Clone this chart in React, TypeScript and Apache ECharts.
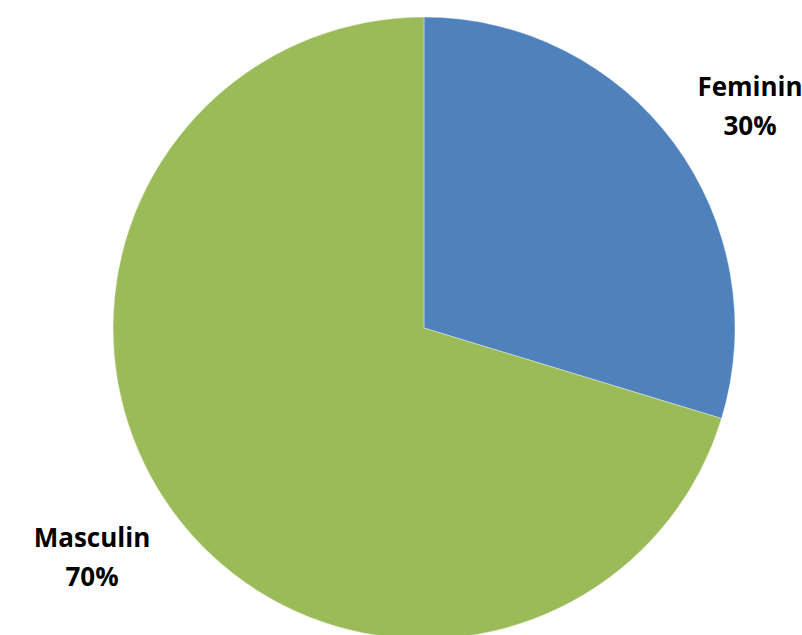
import React, { useEffect, useRef } from "react";
import * as echarts from "echarts";

const categories = ["Feminin", "Masculin"];
const values = [29.7, 70.3];
const percentLabels = ["30%", "70%"];
const colors = ["#4F81BD", "#9BBB59"];
const labelCenters = [
  [750, 105],
  [92, 556],
];

export default function App() {
  const ref = useRef<HTMLDivElement>(null);
  useEffect(() => {
    const chart = echarts.init(ref.current!, null, { renderer: "svg" });
    chart.setOption({
      animation: false,
      backgroundColor: "#ffffff",
      series: [
        {
          type: "pie",
          center: [424, 328],
          radius: 311,
          startAngle: 90,
          clockwise: true,
          data: categories.map((c, i) => ({
            name: c,
            value: values[i],
            itemStyle: { color: colors[i] },
          })),
          itemStyle: { borderColor: "rgba(255,255,255,0.6)", borderWidth: 0.6 },
          label: {
            show: true,
            position: "outside",
            formatter: (p: any) => `${p.name}\n${percentLabels[p.dataIndex]}`,
            fontFamily: "Open Sans",
            fontWeight: "bold",
            fontSize: 26,
            lineHeight: 39,
            color: "#000000",
            align: "center",
            overflow: "none",
            width: 200,
          },
          labelLine: { show: false },
          labelLayout: (params: any) => ({
            x: labelCenters[params.dataIndex][0],
            y: labelCenters[params.dataIndex][1],
            align: "center",
            verticalAlign: "middle",
          }),
          emphasis: { disabled: true },
        },
      ],
    });
    return () => chart.dispose();
  }, []);
  return (
    <div
      ref={ref}
      style={{ position: "fixed", left: 0, top: 0, width: 802, height: 635 }}
    />
  );
}
